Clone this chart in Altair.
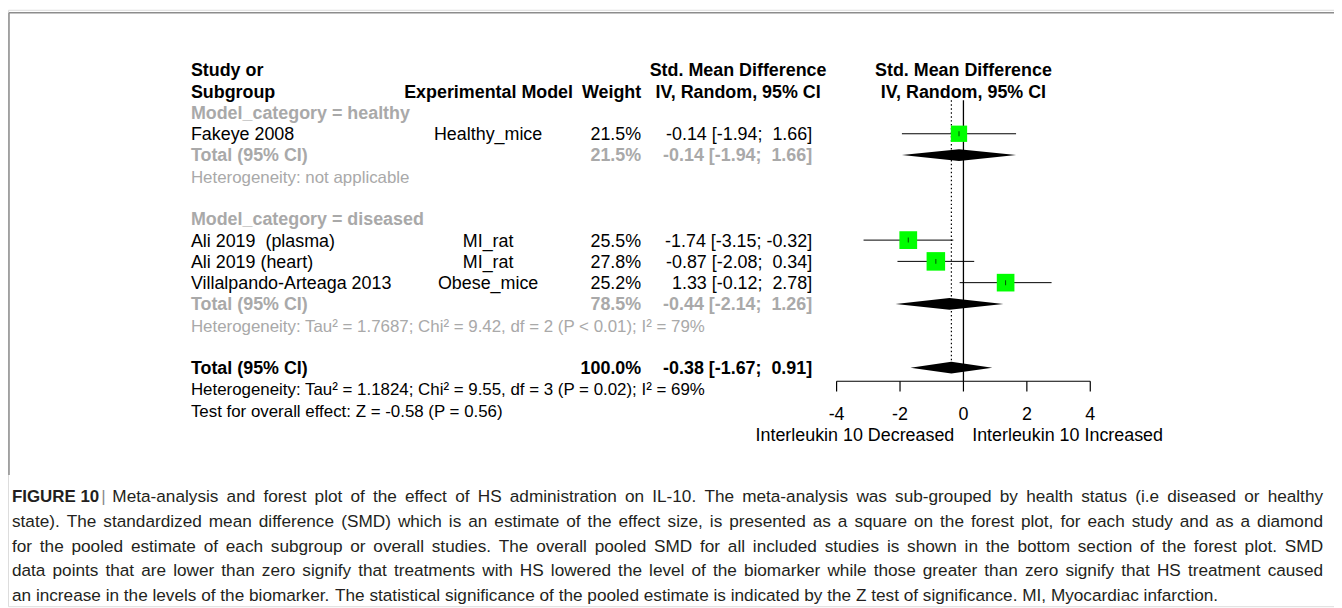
import altair as alt
import pandas as pd

# ---------------- data ----------------
study_names = ["Fakeye 2008", "Ali 2019\u00a0 (plasma)", "Ali 2019 (heart)", "Villalpando-Arteaga 2013"]
study_models = ["Healthy_mice", "MI_rat", "MI_rat", "Obese_mice"]
study_weights = [21.5, 25.5, 27.8, 25.2]
study_smd = [-0.14, -1.74, -0.87, 1.33]
study_lower = [-1.94, -3.15, -2.08, -0.12]
study_upper = [1.66, -0.32, 0.34, 2.78]
study_rows = [3, 8, 9, 10]

sub_labels = ["Model_category = healthy", "Model_category = diseased"]
sub_header_rows = [2, 7]
sub_weights = [21.5, 78.5]
sub_smd = [-0.14, -0.44]
sub_lower = [-1.94, -2.14]
sub_upper = [1.66, 1.26]
sub_total_rows = [4, 11]
sub_het_text = ["Heterogeneity: not applicable",
                "Heterogeneity: Tau\u00b2 = 1.7687; Chi\u00b2 = 9.42, df = 2 (P < 0.01); I\u00b2 = 79%"]
sub_het_rows = [5, 12]

overall_weight = 100.0
overall_smd = -0.38
overall_lower = -1.67
overall_upper = 0.91
overall_row = 14
overall_notes = ["Heterogeneity: Tau\u00b2 = 1.1824; Chi\u00b2 = 9.55, df = 3 (P = 0.02); I\u00b2 = 69%",
                 "Test for overall effect: Z = -0.58 (P = 0.56)"]
overall_note_rows = [15, 16]

tick_values = [-4, -2, 0, 2, 4]
axis_left_label = "Interleukin 10 Decreased"
axis_right_label = "Interleukin 10 Increased"

caption_label = "FIGURE 10"
caption_lines = [
    "Meta-analysis and forest plot of the effect of HS administration on IL-10. The meta-analysis was sub-grouped by health status (i.e diseased or healthy",
    "state). The standardized mean difference (SMD) which is an estimate of the effect size, is presented as a square on the forest plot, for each study and as a diamond",
    "for the pooled estimate of each subgroup or overall studies. The overall pooled SMD for all included studies is shown in the bottom section of the forest plot. SMD",
    "data points that are lower than zero signify that treatments with HS lowered the level of the biomarker while those greater than zero signify that HS treatment caused",
    "an increase in the levels of the biomarker. The statistical significance of the pooled estimate is indicated by the Z test of significance. MI, Myocardiac infarction.",
]

# ---------------- layout ----------------
W, H = 1334, 600
ROW0, ROWH = 68.5, 21.4          # page y of row 0 centre, row height
X0, XU = 969.2, 31.9             # page x of SMD 0, px per SMD unit
FONT = "Liberation Sans, Arial, Helvetica, sans-serif"
GRAY = "#a9a9a9"
DY = 6.5


def prow(page_y):
    return (page_y - ROW0) / ROWH


def pv(page_x):
    return (page_x - X0) / XU


yscale = alt.Scale(domain=[prow(8), prow(8 + H)], reverse=True, nice=False, zero=False)
xscale = alt.Scale(domain=[pv(8), pv(8 + W)], nice=False, zero=False)


def Y(f="row"):
    return alt.Y(f"{f}:Q", scale=yscale, axis=None)


def XS(f):
    return alt.X(f"{f}:Q", scale=xscale, axis=None)


def px(page_x):
    return alt.value(page_x - 8)


def text_layer(df, x, align, color="black", size=18, bold=False, field="text", font=FONT, dy=DY):
    return alt.Chart(df).mark_text(
        align=align, baseline="alphabetic", dy=dy, font=font, fontSize=size,
        fontWeight="bold" if bold else "normal", color=color
    ).encode(x=x, y=Y(), text=f"{field}:N")


def fmt_ci(m, l, u):
    s = f"{m:5.2f} [{l:5.2f}; {u:5.2f}]"
    s = s.replace("  ", " \u00a0")
    if s.startswith(" "):
        s = "\u00a0" + s[1:]
    return s


studies = pd.DataFrame({
    "name": study_names, "model": study_models, "weight": study_weights,
    "smd": study_smd, "lower": study_lower, "upper": study_upper, "row": study_rows,
})
studies["wtxt"] = [f"{w:.1f}%" for w in study_weights]
studies["citxt"] = [fmt_ci(m, l, u) for m, l, u in zip(study_smd, study_lower, study_upper)]

subs = pd.DataFrame({"text": sub_labels, "row": sub_header_rows})
sub_tot = pd.DataFrame({
    "text": ["Total (95% CI)"] * 2, "row": sub_total_rows,
    "wtxt": [f"{w:.1f}%" for w in sub_weights],
    "citxt": [fmt_ci(m, l, u) for m, l, u in zip(sub_smd, sub_lower, sub_upper)],
})
sub_het = pd.DataFrame({"text": sub_het_text, "row": sub_het_rows})
ov_tot = pd.DataFrame({
    "text": ["Total (95% CI)"], "row": [overall_row],
    "wtxt": [f"{overall_weight:.1f}%"],
    "citxt": [fmt_ci(overall_smd, overall_lower, overall_upper)],
})
ov_notes = pd.DataFrame({"text": overall_notes, "row": overall_note_rows})

hdr_left = pd.DataFrame({"text": ["Study or", "Subgroup"], "row": [0, 1]})
hdr_model = pd.DataFrame({"text": ["Experimental Model"], "row": [1]})
hdr_weight = pd.DataFrame({"text": ["Weight"], "row": [1]})
hdr_smd = pd.DataFrame({"text": ["Std. Mean Difference", "IV, Random, 95% CI"], "row": [0, 1]})

layers = []
# headers
layers.append(text_layer(hdr_left, px(192), "left", bold=True))
layers.append(text_layer(hdr_model, px(491.5), "center", bold=True))
layers.append(text_layer(hdr_weight, px(645), "right", bold=True))
layers.append(text_layer(hdr_smd, px(742.5), "center", bold=True))
layers.append(text_layer(hdr_smd, px(X0), "center", bold=True))
# subgroup headers
layers.append(text_layer(subs, px(192), "left", color=GRAY, bold=True))
# studies
layers.append(text_layer(studies, px(192), "left", field="name"))
layers.append(text_layer(studies, px(491), "center", field="model"))
layers.append(text_layer(studies, px(645), "right", field="wtxt"))
layers.append(text_layer(studies, px(817), "right", field="citxt"))
# subgroup totals
layers.append(text_layer(sub_tot, px(192), "left", color=GRAY, bold=True))
layers.append(text_layer(sub_tot, px(645), "right", color=GRAY, bold=True, field="wtxt"))
layers.append(text_layer(sub_tot, px(817), "right", color=GRAY, bold=True, field="citxt"))
layers.append(text_layer(sub_het, px(192), "left", color=GRAY, size=17))
# overall
layers.append(text_layer(ov_tot, px(192), "left", bold=True))
layers.append(text_layer(ov_tot, px(645), "right", bold=True, field="wtxt"))
layers.append(text_layer(ov_tot, px(817), "right", bold=True, field="citxt"))
layers.append(text_layer(ov_notes, px(192), "left", size=17))

# ---------- forest panel ----------
top_r, axis_r, tick_r, dot_r = prow(99), prow(381.7), prow(392), prow(365)
vlines = pd.DataFrame({"v": [0.0], "r1": [top_r], "r2": [axis_r]})
layers.append(alt.Chart(vlines).mark_rule(color="black", strokeWidth=1.3).encode(
    x=XS("v"), y=Y("r1"), y2="r2:Q"))
dline = pd.DataFrame({"v": [overall_smd], "r1": [top_r], "r2": [dot_r]})
layers.append(alt.Chart(dline).mark_rule(color="black", strokeWidth=1.2, strokeDash=[1.5, 2.5]).encode(
    x=XS("v"), y=Y("r1"), y2="r2:Q"))

layers.append(alt.Chart(studies).mark_rule(color="black", strokeWidth=1).encode(
    x=XS("lower"), x2="upper:Q", y=Y()))
layers.append(alt.Chart(studies).mark_square(color="#00ff00", opacity=1).encode(
    x=XS("smd"), y=Y(),
    size=alt.Size("weight:Q", scale=alt.Scale(domain=[0, 100], range=[0, 1250], zero=True), legend=None)))
layers.append(alt.Chart(studies).mark_tick(orient="vertical", color="black", thickness=1, size=5).encode(
    x=XS("smd"), y=Y()))

# diamonds (pooled estimates)
HALF = 5.9 / ROWH
drows = []
for g, (m, l, u, r) in enumerate(zip(sub_smd + [overall_smd], sub_lower + [overall_lower],
                                     sub_upper + [overall_upper], sub_total_rows + [overall_row])):
    drows += [
        {"g": g, "v": l, "t": r, "b": r},
        {"g": g, "v": m, "t": r - HALF, "b": r + HALF},
        {"g": g, "v": u, "t": r, "b": r},
    ]
diam = pd.DataFrame(drows)
layers.append(alt.Chart(diam).mark_area(color="black", orient="vertical", opacity=1, line=False).encode(
    x=XS("v"), y=alt.Y("t:Q", scale=yscale, axis=None, stack=None), y2="b:Q", detail="g:N"))

# axis
axl = pd.DataFrame({"v1": [min(tick_values)], "v2": [max(tick_values)], "r": [axis_r]})
layers.append(alt.Chart(axl).mark_rule(color="black", strokeWidth=1.2).encode(
    x=XS("v1"), x2="v2:Q", y=Y("r")))
ticks = pd.DataFrame({"v": tick_values, "r1": [axis_r] * 5, "r2": [tick_r] * 5,
                      "lab": [str(t) for t in tick_values], "row": [prow(414.5)] * 5})
layers.append(alt.Chart(ticks).mark_rule(color="black", strokeWidth=1.2).encode(
    x=XS("v"), y=Y("r1"), y2="r2:Q"))
layers.append(alt.Chart(ticks).mark_text(font=FONT, fontSize=18, baseline="alphabetic", dy=DY,
                                         align="center", color="black").encode(
    x=XS("v"), y=Y(), text="lab:N"))
axt = pd.DataFrame({"text": [axis_left_label], "row": [prow(435.5)]})
layers.append(text_layer(axt, px(960), "right"))
axt2 = pd.DataFrame({"text": [axis_right_label], "row": [prow(435.5)]})
layers.append(text_layer(axt2, px(978), "left"))

# ---------- frame ----------
frame = pd.DataFrame({"a": [0]})
layers.append(alt.Chart(frame).mark_rule(color="#8c8c8c", strokeWidth=1.5).encode(
    x=alt.value(1), x2=alt.value(W), y=alt.value(3)))
layers.append(alt.Chart(frame).mark_rule(color="#8c8c8c", strokeWidth=1.5).encode(
    x=alt.value(1), y=alt.value(3), y2=alt.value(468)))

# ---------- caption (justified lines, Arial metrics) ----------
AW = {' ': 278, '!': 278, '%': 889, '(': 333, ')': 333, ',': 278, '-': 333, '.': 278, ':': 278,
      ';': 278, '|': 260, 'A': 667, 'B': 667, 'C': 722, 'D': 722, 'E': 667, 'F': 611, 'G': 778,
      'H': 722, 'I': 278, 'J': 500, 'K': 667, 'L': 556, 'M': 833, 'N': 722, 'O': 778, 'P': 667,
      'Q': 778, 'R': 722, 'S': 667, 'T': 611, 'U': 722, 'V': 667, 'W': 944, 'X': 667, 'Y': 667,
      'Z': 611, 'a': 556, 'b': 556, 'c': 500, 'd': 556, 'e': 556, 'f': 278, 'g': 556, 'h': 556,
      'i': 222, 'j': 222, 'k': 500, 'l': 222, 'm': 833, 'n': 556, 'o': 556, 'p': 556, 'q': 556,
      'r': 333, 's': 500, 't': 278, 'u': 556, 'v': 500, 'w': 722, 'x': 500, 'y': 500, 'z': 500}
CAPSIZE = 17.3
CAPFONT = "Liberation Sans, Arial, sans-serif"
CAPCOL = "#231f20"
cap_base = [503, 528, 553, 578, 603]
RIGHT_EDGE = 1331


def tw(s):
    return sum(AW.get(c, 556) for c in s) * CAPSIZE / 1000.0


words = []
for i, line in enumerate(caption_lines):
    start = 113 if i == 0 else 12
    ws = line.split(" ")
    if i < len(caption_lines) - 1:
        gap = (RIGHT_EDGE - start - sum(tw(w) for w in ws)) / (len(ws) - 1)
    else:
        gap = tw(" ")
    x = start
    for w in ws:
        words.append({"text": w, "v": pv(x), "row": prow(cap_base[i] - 6)})
        x += tw(w) + gap
cap_words = pd.DataFrame(words)

layers.append(alt.Chart(cap_words).mark_text(
    align="left", baseline="alphabetic", dy=6, font=CAPFONT, fontSize=CAPSIZE, color=CAPCOL
).encode(x=XS("v"), y=Y(), text="text:N"))
layers.append(alt.Chart(pd.DataFrame({"text": [caption_label], "row": [prow(cap_base[0] - 6)]})).mark_text(
    align="left", baseline="alphabetic", dy=6, font=CAPFONT, fontSize=17, fontWeight="bold", color=CAPCOL
).encode(x=px(12), y=Y(), text="text:N"))
layers.append(alt.Chart(pd.DataFrame({"text": ["|"], "row": [prow(cap_base[0] - 6)]})).mark_text(
    align="center", baseline="alphabetic", dy=6, font=CAPFONT, fontSize=17, color="#8a8a8a"
).encode(x=px(104), y=Y(), text="text:N"))

chart = alt.layer(*layers).properties(
    width=W, height=H, padding=0, autosize="none"
).configure_view(stroke=None).configure(background="white")

chart.save("out.html", embed_options={"renderer": "svg", "actions": False})
